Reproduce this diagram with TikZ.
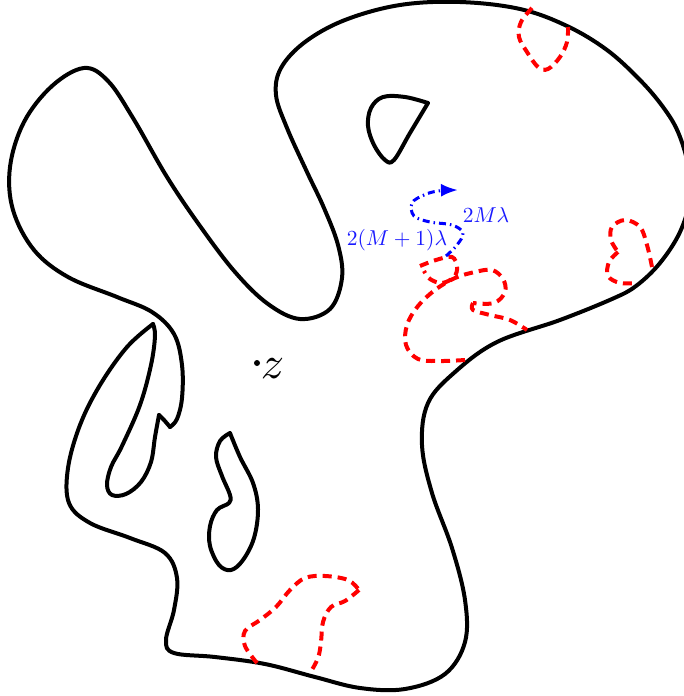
\documentclass[tikz,border=0pt]{standalone}
\usetikzlibrary{arrows.meta}
\begin{document}
\begin{tikzpicture}[x=1pt,y=-1pt,
  bnd/.style={line width=4pt,line cap=round,line join=round},
  cut/.style={red,line width=4pt,dash pattern=on 9pt off 6pt},
  walk/.style={blue,line width=3pt,dash pattern=on 7pt off 4pt on 1.5pt off 4pt},
  lbl/.style={text=blue!90,scale=2.15,inner sep=0pt}]
\useasboundingbox (0,0) rectangle (684,696);
% outer boundary
\draw[bnd] plot[smooth,tension=0.6] coordinates {
(153,324) (127,347) (100,385) (80,425) (68,468) (69,503) (90,523) (130,538)
(165,553) (177,578) (174,610) (166,640) (174,653) (215,657) (265,664) (315,677)
(360,688) (405,689) (445,674) (465,642) (465,600) (452,548) (432,493) (422,445)
(428,403) (455,372) (497,342) (560,320) (612,299) (636,286) (660,263) (680,232)
(690,198) (688,165) (678,132) (663,107) (640,80) (607,50) (567,26) (520,9) (460,2) (400,5)
(345,20) (305,42) (281,68) (276,95) (287,128) (307,172) (324,208) (338,245)
(342,278) (330,309) (300,319) (268,304) (235,272) (200,226) (167,177) (133,118)
(108,81) (84,68) (52,86) (24,122) (10,167) (13,210) (34,250) (68,277)
(117,297) (152,312) (174,334) (182,365) (182,398) (177,419) (170,427)};
\draw[bnd] plot[smooth,tension=0.55] coordinates {(170,427) (164,420) (159,415)};
\draw[bnd] plot[smooth,tension=0.6] coordinates {
(159,415) (155,437) (151,462) (141,482) (126,494) (112,495) (107,485) (111,467)
(122,446) (140,405) (151,365) (155,336) (153,324)};
% holes
\draw[bnd] plot[smooth,tension=0.6] coordinates {
(428,103) (405,97) (383,97) (371,108) (368,126) (374,145) (385,160) (394,160)
(410,133) (428,103)};
\draw[bnd] plot[smooth,tension=0.6] coordinates {
(230,433) (240,457) (253,483) (258,509) (254,538) (243,560) (231,570) (219,565)
(210,546) (210,526) (217,510) (229,503) (230,495) (222,476) (216,457) (220,441)
(230,433)};
% red cuts
\draw[cut] plot[smooth,tension=0.6] coordinates {
(257,663) (245,646) (245,631) (260,620) (276,607) (290,590) (305,578)
(325,576) (348,580) (359,590)};
\draw[cut] plot[smooth,tension=0.6] coordinates {
(359,590) (345,601) (331,607) (323,622) (321,642) (318,658) (310,673)};
\draw[cut] plot[smooth,tension=0.6] coordinates {
(532,8) (521,22) (519,37) (527,52) (538,67) (548,69) (560,57) (567,42) (568,27)};
\draw[cut] plot[smooth,tension=0.6] coordinates {
(652,267) (647,245) (640,227) (625,220) (612,227) (611,240) (618,252)};
\draw[cut] plot[smooth,tension=0.6] coordinates {
(618,252) (609,262) (608,276) (620,283) (635,283)};
\draw[cut] plot[smooth,tension=0.6] coordinates {
(465,360) (440,361) (418,359) (406,345) (407,325) (418,306) (435,290)
(455,278) (475,272) (492,270) (503,279) (505,292) (494,303) (473,303)};
\draw[cut] plot[smooth,tension=0.6] coordinates {
(473,303) (473,310) (490,315) (510,320) (527,330)};
\draw[cut] plot[smooth,tension=0.6] coordinates {
(420,266) (436,260) (452,257) (457,267) (454,277) (442,283) (430,279) (424,271)};
% blue walk
\draw[walk,-{Latex[length=17pt,width=13pt]}] plot[smooth,tension=0.6] coordinates {
(446,256) (457,245) (463,233) (452,225) (430,222) (414,216) (412,203) (424,195)
(438,191) (458,190)};
\node[lbl] (lm) at (486,215) {$2M\lambda$};
\node[lbl] (lm1) at (397,240) {$2(M+1)\lambda$};
% point z
\fill (257,363) circle (3pt);
\node[inner sep=0pt,anchor=west,scale=4.6] (z) at (260,369) {$z$};
\end{tikzpicture}
\end{document}
